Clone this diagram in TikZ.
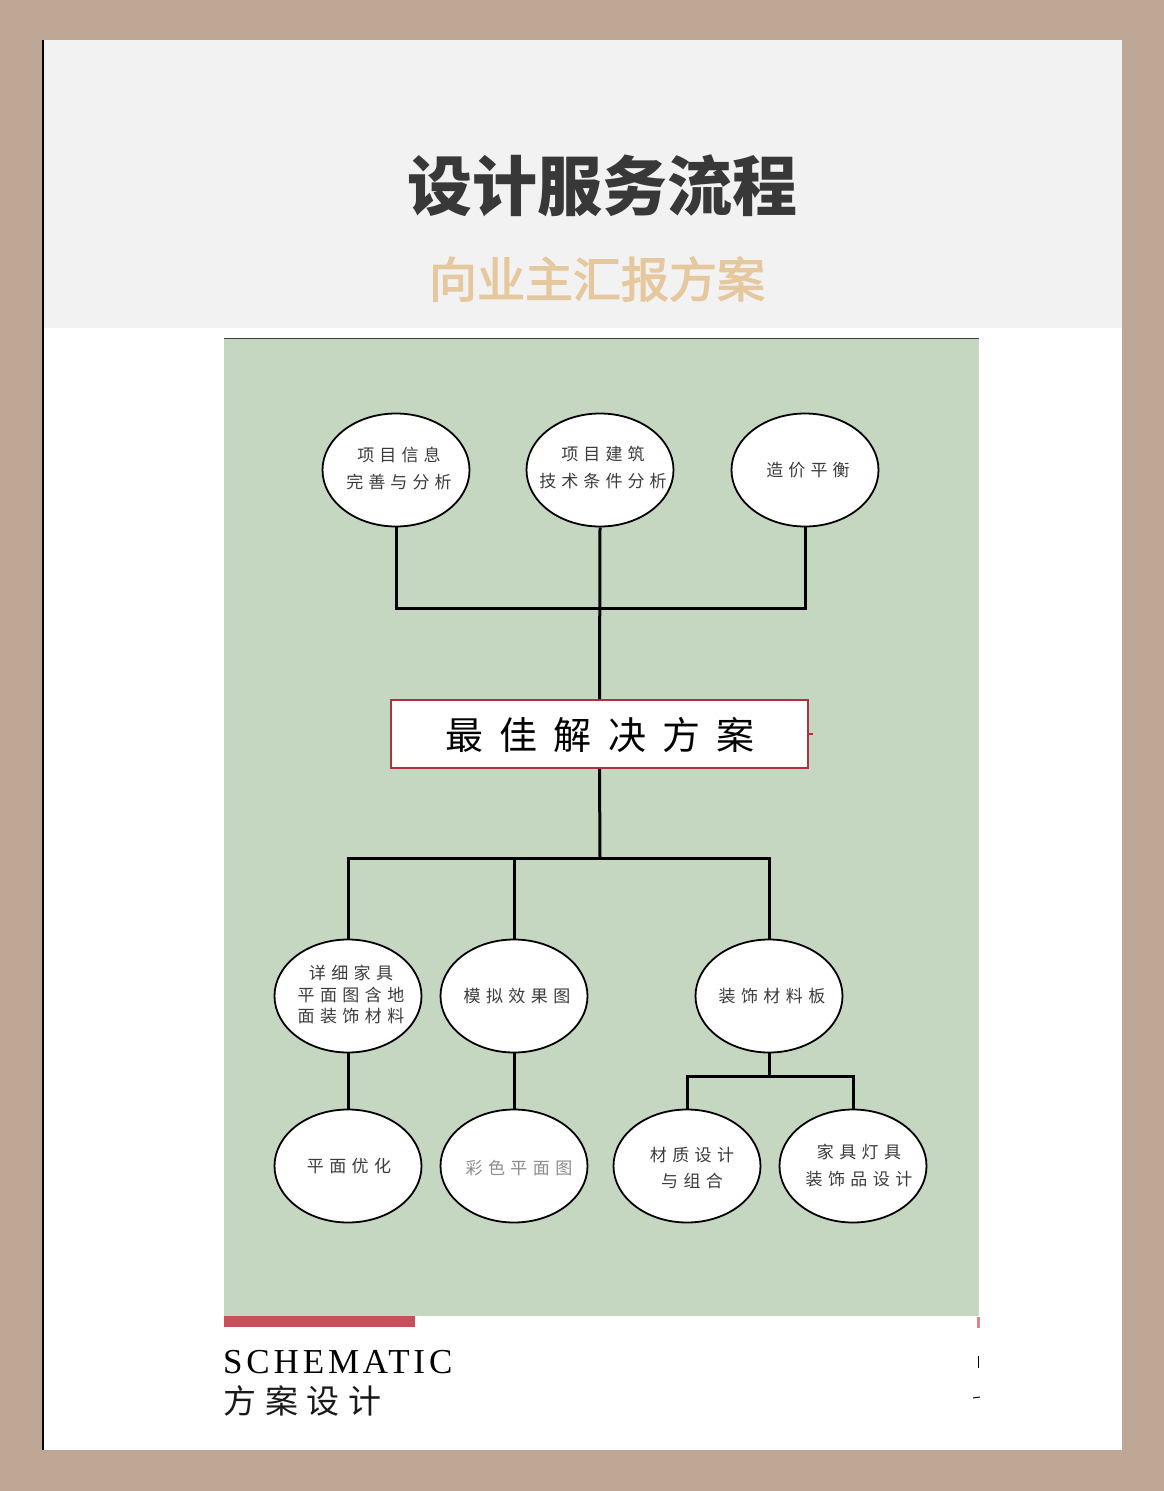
\documentclass[tikz,border=0pt]{standalone}
\usepackage{fontspec}
\setmainfont{Liberation Serif}
\newfontfamily\cjk{Noto Sans CJK SC}
\newfontfamily\cjkfb[FakeBold=2.5]{Noto Sans CJK SC}
\newfontfamily\cjksp[LetterSpace=30]{Noto Sans CJK SC}
\newfontfamily\cjkmid[LetterSpace=32]{Noto Sans CJK SC}
\newfontfamily\cjkbox[LetterSpace=43]{Noto Sans CJK SC}
\newfontfamily\cjkfoot[LetterSpace=27]{Noto Sans CJK SC}
\newfontfamily\schem[LetterSpace=11]{Liberation Serif}
\usetikzlibrary{shapes.geometric}
\definecolor{tanbg}{HTML}{BEA794}
\definecolor{panelgray}{HTML}{F2F2F2}
\definecolor{leaf}{HTML}{C5D7C1}
\definecolor{redbar}{HTML}{C8505A}
\definecolor{boxred}{HTML}{B0303F}
\definecolor{subtan}{HTML}{E6C89F}
\definecolor{titlegray}{HTML}{383838}
\definecolor{txtgray}{HTML}{3C3C3C}
\begin{document}
\begin{tikzpicture}[x=1pt,y=-1pt,
  oval/.style={ellipse, draw=black, line width=1.8pt, fill=white, minimum width=147pt, minimum height=113pt, inner sep=0pt},
  etxt/.style={align=center, text=txtgray, inner sep=0pt, font=\cjksp\fontsize{17}{27}\selectfont},
  mtxt/.style={align=center, text=txtgray, inner sep=0pt, font=\cjkmid\fontsize{17}{21.5}\selectfont},
  conn/.style={line width=3pt, black},
  bestbox/.style={rectangle, draw=boxred, line width=2pt, fill=white, minimum width=417pt, minimum height=68pt, inner sep=0pt}]
\useasboundingbox (0,0) rectangle (1164,1491);
\fill[tanbg] (0,0) rectangle (1164,1491);
\fill[panelgray] (43,40) rectangle (1122,1450);
\fill[white] (43,328) rectangle (1122,1450);
\draw[black, line width=1.5pt] (42.75,40) -- (42.75,1450);
\fill[leaf] (224,338) rectangle (979,1316);
\draw[black!70!leaf, line width=1pt] (224,338.5) -- (979,338.5);
\fill[redbar] (224,1316) rectangle (415,1327);
% cropped fragments at right edge
\fill[redbar!70] (977,1317) rectangle (980,1328);
\draw[black, line width=1pt] (978.5,1356) -- (978.5,1368);
\draw[black, line width=1pt] (973,1398) -- (980,1397);

% titles
\node[text=titlegray, inner sep=0pt, font=\cjk\bfseries\fontsize{65}{65}\selectfont] (title) at (602,186) {设计服务流程};
\node[text=subtan, inner sep=0pt, font=\cjkfb\fontsize{48}{48}\selectfont] (sub) at (597,279) {向业主汇报方案};

% top ellipses
\node[oval] (t1) at (396,470) {};
\node[oval] (t2) at (600,470) {};
\node[oval] (t3) at (805,470) {};
\node[etxt] at (399,468) {项目信息\\完善与分析};
\node[etxt] at (603,468) {项目建筑\\技术条件分析};
\node[etxt] at (808,470) {造价平衡};

% central box
\node[bestbox] (best) at (599.5,734) {};
\node[text=black, inner sep=0pt, font=\cjkbox\fontsize{38}{38}\selectfont] at (600,735) {最佳解决方案};
\draw[boxred, line width=1.5pt] (best.east) -- ++(4,0);

\coordinate (j1) at (600,608);
\coordinate (j2) at (600,858);
\coordinate (j3) at (769,1076);

% middle ellipses
\node[oval] (m1) at (348,996) {};
\node[oval] (m2) at (514,996) {};
\node[oval] (m3) at (769,996) {};
\node[mtxt] at (351,995) {详细家具\\平面图含地\\面装饰材料};
\node[mtxt] at (517,996) {模拟效果图};
\node[mtxt] at (772,996) {装饰材料板};

% bottom ellipses
\node[oval] (b1) at (348,1166) {};
\node[oval] (b2) at (514,1166) {};
\node[oval] (b3) at (687,1166) {};
\node[oval] (b4) at (853,1166) {};
\node[mtxt] at (349,1166) {平面优化};
\node[mtxt, text=black!45] at (519,1168) {彩色平面图};
\node[mtxt, font=\cjkmid\fontsize{17}{26}\selectfont] at (692,1168) {材质设计\\与组合};
\node[mtxt, font=\cjkmid\fontsize{17}{27}\selectfont] at (859,1166) {家具灯具\\装饰品设计};

% connectors top
\draw[conn] (t1.south) -- (t1.south |- j1) -- (t3.south |- j1) -- (t3.south);
\draw[conn] (t2.south) -- (best.north);
% connectors bottom
\draw[conn] (best.south) -- (j2);
\draw[conn] (m1.north) -- (m1.north |- j2) -- (m3.north |- j2) -- (m3.north);
\draw[conn] (m2.north) -- (m2.north |- j2);
\draw[conn] (m1.south) -- (b1.north);
\draw[conn] (m2.south) -- (b2.north);
\draw[conn] (m3.south) -- (j3);
\draw[conn] (b3.north) -- (b3.north |- j3) -- (b4.north |- j3) -- (b4.north);

% footer
\node[anchor=base west, inner sep=0pt, text=black, font=\schem\fontsize{35}{35}\selectfont] (schem) at (223,1373) {SCHEMATIC};
\node[anchor=west, inner sep=0pt, text=black!90, font=\cjkfoot\fontsize{33}{33}\selectfont] (fa) at (223,1401) {方案设计};
\end{tikzpicture}
\end{document}
